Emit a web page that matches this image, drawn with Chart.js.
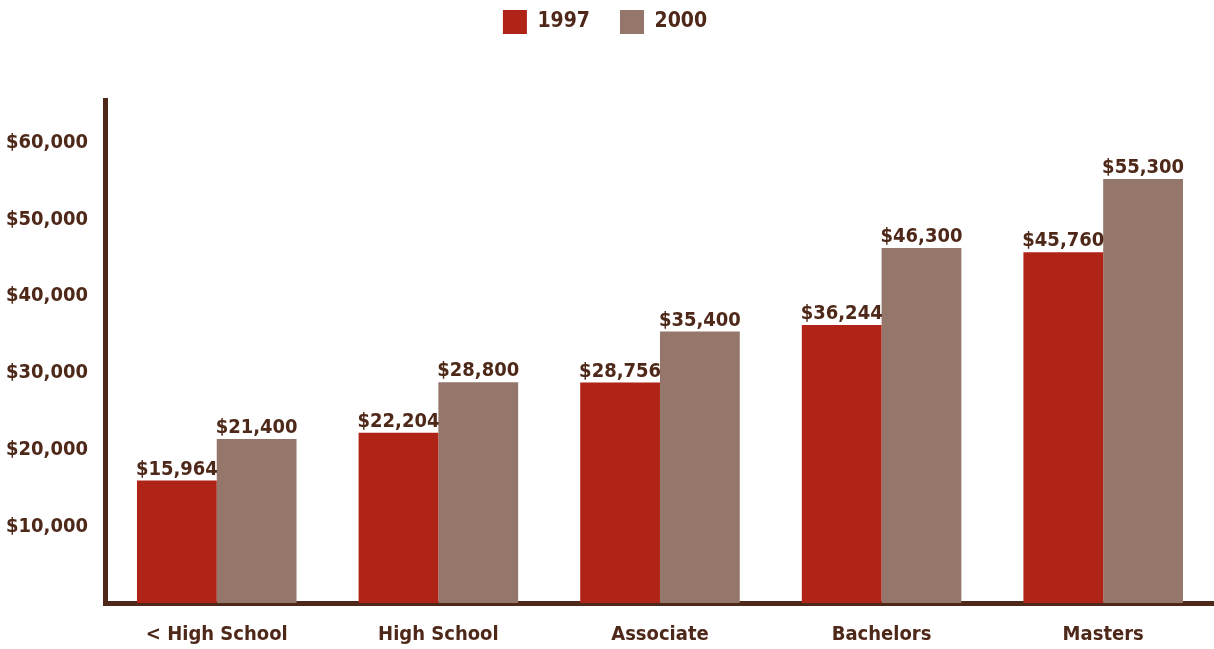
<!DOCTYPE html>
<html>
<head>
<meta charset="utf-8">
<script src="https://cdn.jsdelivr.net/npm/chart.js@4.4.1/dist/chart.umd.min.js"></script>
<style>
  html, body { margin: 0; padding: 0; background: #fff; }
  #wrap { width: 1214px; height: 649px; }
</style>
</head>
<body>
<div id="wrap"><canvas id="graficaIngresos"></canvas></div>
<script>
const categorias = ['< High School', 'High School', 'Associate', 'Bachelors', 'Masters'];
const ingresos1997 = [15964, 22204, 28756, 36244, 45760];
const ingresos2000 = [21400, 28800, 35400, 46300, 55300];
const etiquetasSeries = ['1997', '2000'];
const marcasY = [10000, 20000, 30000, 40000, 50000, 60000];

const FUENTE = "'Liberation Sans Narrow', 'DejaVu Sans Condensed', sans-serif";
const MARRON = '#4e2818';

function dinero(v) {
  return '$' + Number(v).toLocaleString('en-US');
}

// etiquetas encima de cada barra
const etiquetasBarras = {
  id: 'etiquetasBarras',
  afterDatasetsDraw(chart) {
    const ctx = chart.ctx;
    ctx.save();
    ctx.font = 'bold 20px ' + FUENTE;
    ctx.fillStyle = MARRON;
    ctx.textAlign = 'center';
    ctx.textBaseline = 'bottom';
    chart.data.datasets.forEach(function (ds, i) {
      chart.getDatasetMeta(i).data.forEach(function (bar, j) {
        ctx.fillText(dinero(ds.data[j]), bar.x, bar.y - 1);
      });
    });
    ctx.restore();
  }
};

// alto fijo para la leyenda (deja hueco hasta el grafico)
const espacioLeyenda = {
  id: 'espacioLeyenda',
  beforeInit(chart) {
    const fitOriginal = chart.legend.fit;
    chart.legend.fit = function () {
      fitOriginal.bind(chart.legend)();
      this.height = 120;
    };
  }
};

document.addEventListener('DOMContentLoaded', function () {
  const ctx = document.getElementById('graficaIngresos').getContext('2d');
  new Chart(ctx, {
    type: 'bar',
    data: {
      labels: categorias,
      datasets: [{
        label: etiquetasSeries[0],
        data: ingresos1997,
        backgroundColor: '#b02418'
      }, {
        label: etiquetasSeries[1],
        data: ingresos2000,
        backgroundColor: '#94776a'
      }]
    },
    options: {
      responsive: true,
      maintainAspectRatio: false,
      animation: false,
      categoryPercentage: 0.72,
      barPercentage: 1.0,
      layout: { padding: { top: -20, left: -4, right: 0, bottom: -10 } },
      plugins: {
        tooltip: { enabled: false },
        legend: {
          position: 'top',
          labels: {
            color: MARRON,
            font: { family: FUENTE, size: 21, weight: 'bold' },
            boxWidth: 24,
            boxHeight: 24,
            padding: 30
          }
        }
      },
      scales: {
        x: {
          grid: { display: false },
          border: { color: MARRON, width: 5 },
          ticks: {
            color: MARRON,
            font: { family: FUENTE, size: 20, weight: 'bold' },
            padding: 12
          }
        },
        y: {
          min: 0,
          max: 65600,
          grid: { display: false },
          border: { color: MARRON, width: 5 },
          afterBuildTicks: function (axis) {
            axis.ticks = marcasY.map(function (v) { return { value: v }; });
          },
          ticks: {
            color: MARRON,
            font: { family: FUENTE, size: 20, weight: 'bold' },
            padding: 10,
            callback: function (v) { return dinero(v); }
          }
        }
      }
    },
    plugins: [etiquetasBarras, espacioLeyenda]
  });
});
</script>
</body>
</html>
